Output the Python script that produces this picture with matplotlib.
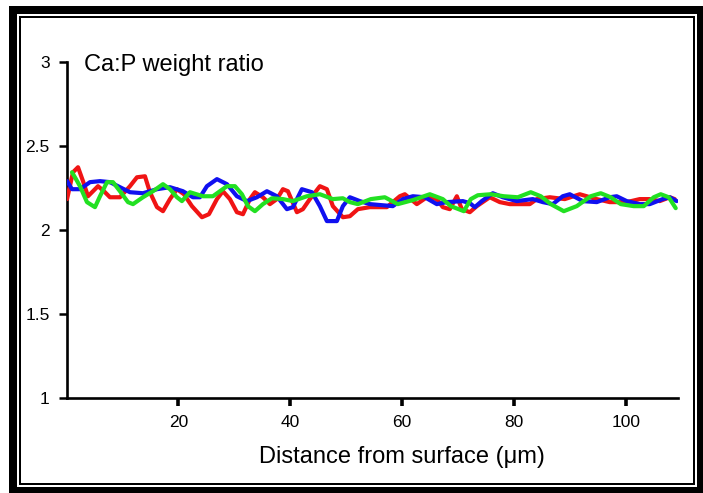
import matplotlib
matplotlib.use("Agg")
import matplotlib.pyplot as plt
from matplotlib.patches import Rectangle

plt.rcParams['font.family'] = ['Liberation Sans', 'DejaVu Sans']

# ---- data ----
red_x = [0.1, 1.16, 2.06, 2.95, 3.84, 4.74, 5.63, 6.7, 7.77, 9.56, 11.35, 12.6, 14.03, 14.92,
         16.18, 17.25, 18.5, 19.75, 21.0, 22.43, 24.22, 25.47, 26.9, 27.97, 29.22, 30.47,
         31.55, 32.8, 33.69, 35.12, 36.37, 37.62, 38.7, 39.59, 41.2, 42.27, 43.52, 45.31,
         46.56, 47.63, 49.42, 50.67, 52.1, 54.24, 57.28, 59.6, 60.5, 62.64, 64.43, 66.22,
         67.29, 68.54, 69.8, 70.69, 72.12, 73.37, 75.69, 77.48, 79.27, 82.84, 84.1, 86.42,
         89.1, 91.78, 93.03, 94.82, 97.14, 100.18, 102.5, 104.3, 106.08, 107.87, 108.76]
red_y = [2.185, 2.345, 2.375, 2.292, 2.202, 2.232, 2.262, 2.232, 2.196, 2.196, 2.262, 2.315,
         2.321, 2.226, 2.137, 2.113, 2.185, 2.244, 2.214, 2.143, 2.077, 2.095, 2.185, 2.232,
         2.185, 2.107, 2.095, 2.185, 2.226, 2.196, 2.155, 2.185, 2.244, 2.232, 2.107, 2.125,
         2.185, 2.262, 2.244, 2.143, 2.077, 2.083, 2.125, 2.137, 2.137, 2.202, 2.214, 2.155,
         2.196, 2.185, 2.137, 2.125, 2.202, 2.125, 2.107, 2.143, 2.196, 2.167, 2.155, 2.155,
         2.185, 2.196, 2.185, 2.214, 2.202, 2.185, 2.167, 2.167, 2.185, 2.185, 2.173, 2.196,
         2.185]

blue_x = [0.09, 0.98, 2.41, 4.2, 5.99, 7.77, 9.56, 11.35, 13.67, 16.18, 18.5, 20.82, 22.61,
          23.86, 25.11, 26.9, 28.69, 30.47, 32.26, 34.05, 35.84, 37.62, 39.41, 40.48, 42.09,
          43.88, 45.31, 46.56, 48.35, 49.42, 50.67, 52.46, 54.24, 58.35, 60.14, 61.93, 64.07,
          66.22, 68.0, 70.87, 72.12, 73.01, 74.26, 76.23, 78.02, 80.52, 83.38, 85.17, 86.95,
          88.74, 89.99, 92.31, 94.82, 97.14, 98.39, 100.18, 102.5, 104.3, 106.6, 107.87, 109.12]
blue_y = [2.292, 2.244, 2.244, 2.286, 2.292, 2.286, 2.256, 2.226, 2.22, 2.244, 2.256, 2.232,
          2.196, 2.196, 2.262, 2.304, 2.274, 2.202, 2.173, 2.196, 2.232, 2.202, 2.125, 2.137,
          2.244, 2.226, 2.143, 2.054, 2.054, 2.143, 2.196, 2.173, 2.155, 2.143, 2.185, 2.202,
          2.196, 2.155, 2.167, 2.173, 2.161, 2.137, 2.173, 2.22, 2.196, 2.173, 2.185, 2.167,
          2.155, 2.202, 2.214, 2.173, 2.167, 2.196, 2.202, 2.173, 2.155, 2.155, 2.185, 2.196,
          2.173]

green_x = [0.98, 1.7, 2.41, 3.66, 5.09, 5.99, 7.24, 8.31, 9.56, 10.99, 11.89, 13.67, 15.46,
           17.25, 18.5, 19.75, 20.64, 22.07, 24.4, 26.18, 28.69, 30.12, 31.37, 32.44, 33.69,
           35.12, 36.73, 38.7, 40.48, 42.98, 45.31, 47.63, 49.42, 50.67, 52.1, 54.42, 56.92,
           59.24, 61.93, 64.97, 67.29, 68.72, 71.05, 72.3, 73.55, 75.87, 78.2, 80.7, 83.02,
           84.81, 86.6, 88.92, 91.24, 93.74, 95.53, 97.32, 99.11, 101.43, 103.22, 105.01,
           106.26, 107.69, 108.94]
green_y = [2.345, 2.304, 2.262, 2.167, 2.137, 2.202, 2.286, 2.286, 2.232, 2.167, 2.155, 2.196,
           2.232, 2.274, 2.244, 2.196, 2.173, 2.226, 2.202, 2.202, 2.262, 2.262, 2.214, 2.143,
           2.113, 2.155, 2.19, 2.185, 2.173, 2.202, 2.214, 2.185, 2.19, 2.167, 2.155, 2.185,
           2.196, 2.155, 2.179, 2.214, 2.185, 2.143, 2.113, 2.185, 2.208, 2.214, 2.202, 2.196,
           2.226, 2.202, 2.155, 2.113, 2.143, 2.202, 2.22, 2.196, 2.155, 2.143, 2.143, 2.196,
           2.214, 2.196, 2.131]

x_ticks = [20, 40, 60, 80, 100]
x_tick_labels = ['20', '40', '60', '80', '100']
y_ticks = [1, 1.5, 2, 2.5, 3]
y_tick_labels = ['1', '1.5', '2', '2.5', '3']

title_text = 'Ca:P weight ratio'
x_label = 'Distance from surface (\u03bcm)'

# ---- figure ----
W, H = 703, 493
fig = plt.figure(figsize=(W / 100, H / 100), dpi=100)

# frame drawn in pixel coordinates
bg = fig.add_axes([0, 0, 1, 1], zorder=-5)
bg.set_xlim(0, W)
bg.set_ylim(H, 0)
bg.axis('off')
bg.add_patch(Rectangle((9, 5.7), W + 20, H + 20, facecolor='black', edgecolor='none'))
bg.add_patch(Rectangle((16.5, 14), 697 - 16.5, 487.3 - 14, facecolor='white', edgecolor='none'))
bg.add_patch(Rectangle((19.3, 16), 694.8 - 19.3, 485.3 - 16, facecolor='black', edgecolor='none'))
bg.add_patch(Rectangle((21.3, 17.8), 693 - 21.3, 483.3 - 17.8, facecolor='white', edgecolor='none'))

left, right = 66.5 / W, 678.3 / W
bottom, top = (H - 398) / H, (H - 62.3) / H
ax = fig.add_axes([left, bottom, right - left, top - bottom])
ax.patch.set_alpha(0)

lw = 3.0
ax.plot(red_x, red_y, color='#f01414', lw=lw, solid_joinstyle='round', solid_capstyle='round', zorder=3)
ax.plot(blue_x, blue_y, color='#1010f0', lw=lw, solid_joinstyle='round', solid_capstyle='round', zorder=4)
ax.plot(green_x, green_y, color='#22e022', lw=lw, solid_joinstyle='round', solid_capstyle='round', zorder=5)

ax.set_xlim(0, 109.4)
ax.set_ylim(1, 3)
for s in ['top', 'right']:
    ax.spines[s].set_visible(False)
for s in ['left', 'bottom']:
    ax.spines[s].set_linewidth(1.9)
    ax.spines[s].set_color('black')

ax.set_xticks(x_ticks)
ax.set_xticklabels(x_tick_labels)
ax.set_yticks(y_ticks)
ax.set_yticklabels(y_tick_labels)
ax.tick_params(axis='x', direction='out', length=6, width=2.6, pad=6, labelsize=12.5, colors='black')
ax.tick_params(axis='y', direction='out', length=6, width=1.8, pad=6, labelsize=12.5, colors='black')

ax.text(3.1, 2.948, title_text, fontsize=17, ha='left', va='baseline', clip_on=False)
fig.text(401.5 / W, (H - 463) / H, x_label, fontsize=17, ha='center', va='baseline')

fig.savefig('out.png', dpi=100)
